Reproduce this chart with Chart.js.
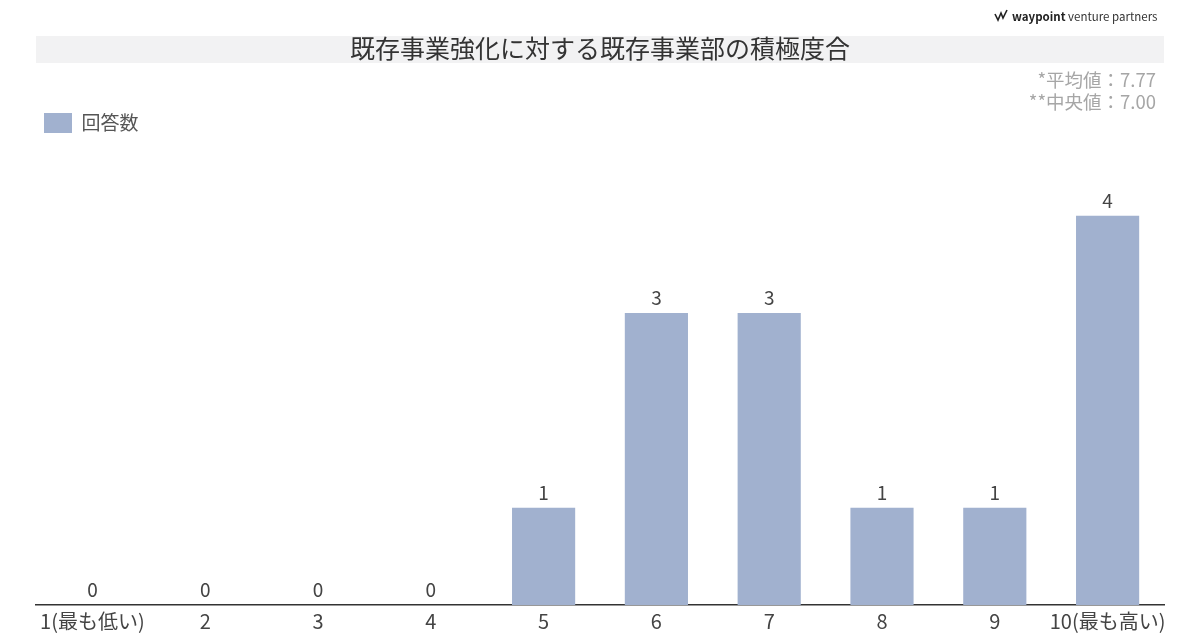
<!DOCTYPE html>
<html>
<head>
<meta charset="utf-8">
<script src="https://cdn.jsdelivr.net/npm/chart.js@4.4.1/dist/chart.umd.min.js"></script>
<style>
  html, body { margin: 0; padding: 0; background: #fff; }
  #wrap { position: relative; width: 1200px; height: 634px; }
  canvas { display: block; }
</style>
</head>
<body>
<div id="wrap"><canvas id="c" width="1200" height="634"></canvas></div>
<script>
const categories = ['1(最も低い)', '2', '3', '4', '5', '6', '7', '8', '9', '10(最も高い)'];
const answerCounts = [0, 0, 0, 0, 1, 3, 3, 1, 1, 4];
const seriesName = '回答数';
const chartTitle = '既存事業強化に対する既存事業部の積極度合';
const statLines = ['*平均値：7.77', '**中央値：7.00'];
const yMax = 4.5;

const FONT = '"Noto Sans CJK JP", "Noto Sans", sans-serif';
const BAR = '#a1b1cf';

const decorPlugin = {
  id: 'decor',
  beforeLayout(chart) {
    const lg = chart.legend;
    if (lg && !lg._patched) {
      const orig = lg.fit.bind(lg);
      lg.fit = function () { orig(); this.height += 24; };
      lg._patched = true;
    }
  },
  beforeDraw(chart) {
    const ctx = chart.ctx;
    ctx.save();
    // title band
    ctx.fillStyle = '#f2f2f3';
    ctx.fillRect(36, 36, 1128, 27);
    ctx.fillStyle = '#333';
    ctx.font = '25px ' + FONT;
    ctx.textAlign = 'center';
    ctx.textBaseline = 'middle';
    ctx.fillText(chartTitle, 600, 48);
    // stats
    ctx.fillStyle = '#a6a6a6';
    ctx.font = '18.5px ' + FONT;
    ctx.textAlign = 'right';
    ctx.fillText(statLines[0], 1156, 80);
    ctx.fillText(statLines[1], 1156, 102);
    // logo
    ctx.textAlign = 'left';
    ctx.fillStyle = '#222';
    ctx.font = 'bold 11.5px ' + FONT;
    ctx.fillText('waypoint', 1012, 17);
    const w = ctx.measureText('waypoint ').width;
    ctx.font = '11.5px ' + FONT;
    ctx.fillStyle = '#333';
    ctx.fillText('venture partners', 1012 + w, 17);
    ctx.strokeStyle = '#222';
    ctx.lineWidth = 1.6;
    ctx.beginPath();
    ctx.moveTo(995, 14); ctx.lineTo(998, 20); ctx.lineTo(1001, 13); ctx.lineTo(1003, 18); ctx.lineTo(1007, 10);
    ctx.stroke();
    ctx.restore();
  },
  afterDatasetsDraw(chart) {
    const ctx = chart.ctx;
    const meta = chart.getDatasetMeta(0);
    const data = chart.data.datasets[0].data;
    ctx.save();
    ctx.fillStyle = '#444';
    ctx.font = '19px ' + FONT;
    ctx.textAlign = 'center';
    ctx.textBaseline = 'middle';
    meta.data.forEach((bar, i) => {
      ctx.fillText(String(data[i]), bar.x, bar.y - 15);
    });
    ctx.restore();
  }
};

new Chart(document.getElementById('c'), {
  type: 'bar',
  data: {
    labels: categories,
    datasets: [{
      label: seriesName,
      data: answerCounts,
      backgroundColor: BAR,
      borderWidth: 0,
      categoryPercentage: 1,
      barPercentage: 0.56
    }]
  },
  options: {
    responsive: false,
    animation: false,
    events: [],
    layout: { padding: { top: 105, left: 36, right: 36, bottom: -3 } },
    plugins: {
      title: { display: false },
      tooltip: { enabled: false },
      legend: {
        display: true,
        position: 'top',
        align: 'start',
        labels: {
          boxWidth: 28,
          boxHeight: 20,
          padding: 8,
          color: '#555',
          font: { size: 19, family: FONT }
        }
      }
    },
    scales: {
      x: {
        grid: { display: false, drawTicks: false },
        border: { display: true, color: '#333', width: 1.5 },
        ticks: { color: '#444', padding: 4, font: { size: 20, family: FONT }, maxRotation: 0, autoSkip: false }
      },
      y: {
        display: false,
        min: 0,
        max: yMax
      }
    }
  },
  plugins: [decorPlugin]
});
</script>
</body>
</html>
